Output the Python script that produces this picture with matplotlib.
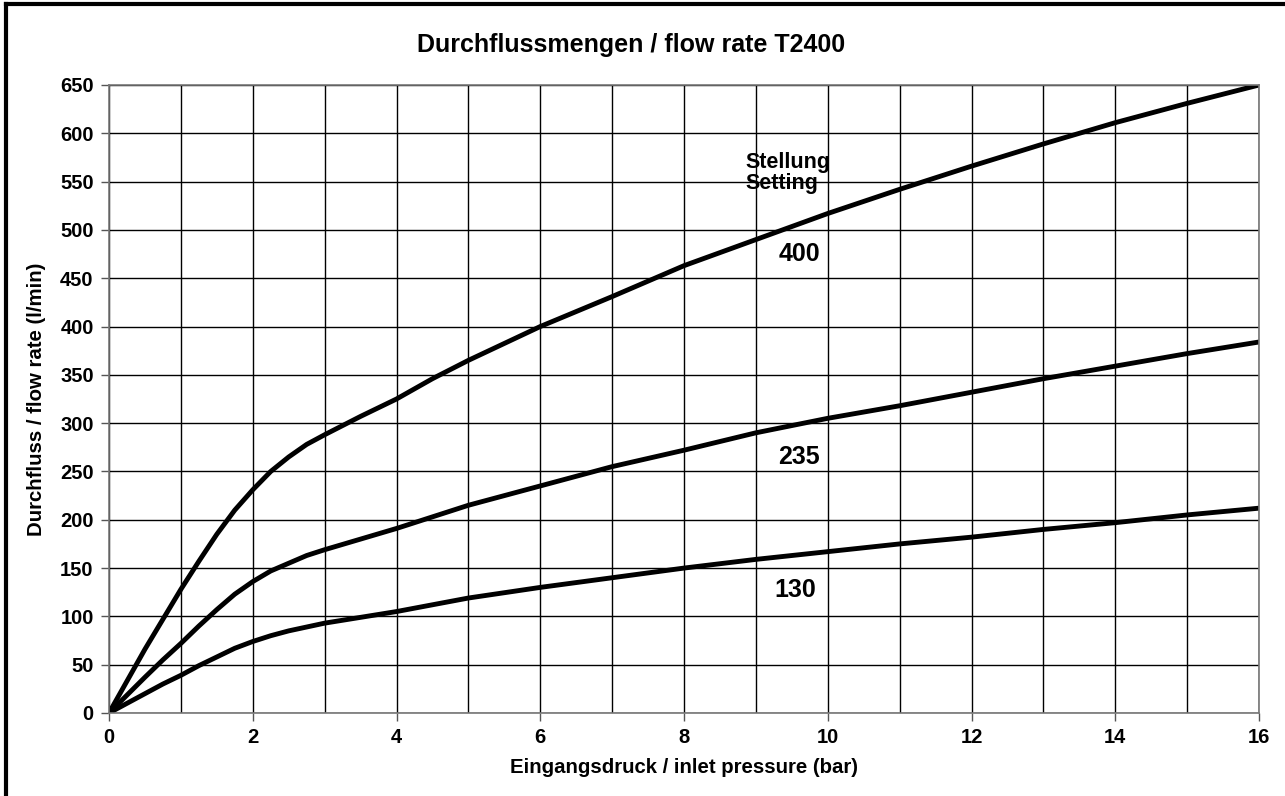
import matplotlib.pyplot as plt
from matplotlib.lines import Line2D
import numpy as np

plt.rcParams['font.family'] = ['Liberation Sans', 'DejaVu Sans']
plt.rcParams['font.weight'] = 'bold'

# inlet pressure (bar)
pressure = [0, 0.5, 0.75, 1, 1.25, 1.5, 1.75, 2, 2.25, 2.5, 2.75, 3, 3.5, 4, 4.5, 5,
            6, 7, 8, 9, 10, 11, 12, 13, 14, 15, 16]
# flow rate (l/min) per setting
flow_400 = [0, 66, 97, 128, 157, 185, 210, 231, 250, 265, 278, 288, 307, 325, 346, 365,
            400, 431, 463, 490, 517, 542, 566, 589, 611, 631, 650]
flow_235 = [0, 37, 55, 72, 90, 107, 123, 136, 147, 155, 163, 169, 180, 191, 203, 215,
            235, 255, 272, 290, 305, 318, 332, 346, 359, 372, 384]
flow_130 = [0, 20, 30, 39, 49, 58, 67, 74, 80, 85, 89, 93, 99, 105, 112, 119,
            130, 140, 150, 159, 167, 175, 182, 190, 197, 205, 212]

settings = ['400', '235', '130']
label_pos = [(9.6, 475), (9.6, 265), (9.55, 127)]

fig = plt.figure(figsize=(12.85, 7.96), dpi=100)
ax = fig.add_axes([109/1285, 83/796, 1150/1285, 628/796])

for series in [flow_400, flow_235, flow_130]:
    ax.plot(pressure, series, color='black', lw=3.5, solid_capstyle='round', solid_joinstyle='round')

ax.set_xlim(0, 16)
ax.set_ylim(0, 650)
ax.set_xticks(np.arange(0, 17, 2))
ax.set_xticks(np.arange(0, 17, 1), minor=True)
ax.set_yticks(np.arange(0, 651, 50))
ax.grid(True, which='both', color='black', lw=1)
ax.tick_params(axis='x', which='minor', length=0)
ax.tick_params(axis='both', which='major', length=6, width=1, color='#555555',
               labelsize=14.5, pad=5)
for s in ax.spines.values():
    s.set_color('#777777')
    s.set_linewidth(1.2)

ax.set_xlabel('Eingangsdruck / inlet pressure (bar)', fontsize=14.7, fontweight='bold', labelpad=8)
ax.set_ylabel('Durchfluss / flow rate (l/min)', fontsize=14.7, fontweight='bold', labelpad=10)
ax.set_title('Durchflussmengen / flow rate T2400', fontsize=18, fontweight='bold', pad=24, x=0.454)

ax.text(8.85, 559, 'Stellung\nSetting', fontsize=15.5, fontweight='bold', va='center', ha='left',
        linespacing=1.05)
for s, (x, y) in zip(settings, label_pos):
    ax.text(x, y, s, fontsize=18, fontweight='bold', ha='center', va='center')

# frame around the figure (left and top visible)
fig.add_artist(Line2D([6/1285, 6/1285], [0, 1 - 4/796], transform=fig.transFigure, color='black', lw=3))
fig.add_artist(Line2D([6/1285, 1], [1 - 4/796, 1 - 4/796], transform=fig.transFigure, color='black', lw=3))

fig.savefig('out.png', dpi=100)
